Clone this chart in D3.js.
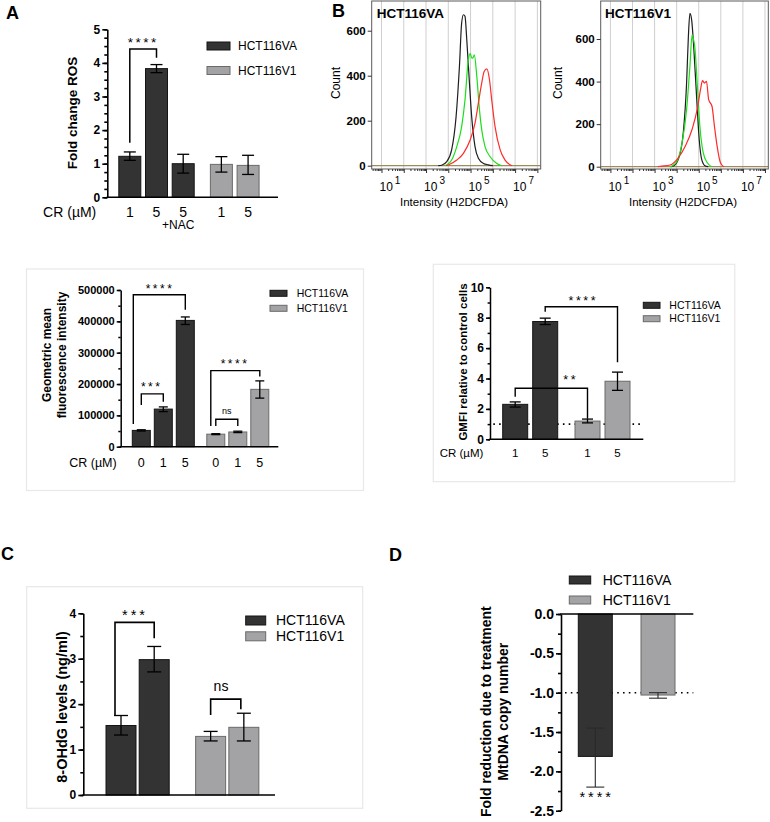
<!DOCTYPE html>
<html><head><meta charset="utf-8">
<script src="https://cdn.jsdelivr.net/npm/d3@7"></script>
<style>body{margin:0;background:#fff}svg{display:block}</style>
</head><body>
<svg id="c" width="770" height="822"></svg>
<script>
// ================= DATA =================
const seriesNames = ["HCT116VA", "HCT116V1"];

// Panel A: Fold change ROS
const aCats   = ["1", "5", "5", "1", "5"];
const aSeries = [0, 0, 0, 1, 1];
const aVals   = [1.22, 3.83, 1.00, 0.98, 0.95];
const aErrLo  = [1.10, 3.71, 0.72, 0.75, 0.68];
const aErrHi  = [1.35, 3.95, 1.28, 1.21, 1.25];
const aTicks  = [0, 1, 2, 3, 4, 5];
const aMinor  = d3.range(0, 5.01, 0.25);

// Panel B: flow histograms (log10 intensity, count)
const histYTicks = [0, 200, 400, 600];
const histXLabelExp = [1, 3, 5, 7];
const histGridExp = [1, 2, 3, 4, 5, 6, 7, 8];
const vaBlack = [[3.55,0],[3.70,2],[3.93,18],[4.15,70],[4.35,218],[4.50,441],[4.60,634],[4.68,671],[4.75,664],[4.83,560],[4.95,367],[5.05,218],[5.20,85],[5.35,33],[5.58,10],[5.80,4],[6.00,0]];
const vaGreen = [[3.85,0],[3.93,3],[4.15,25],[4.38,85],[4.60,174],[4.75,292],[4.90,470],[4.98,498],[5.05,480],[5.10,478],[5.17,493],[5.28,397],[5.40,248],[5.50,160],[5.65,85],[5.88,40],[6.18,10],[6.40,0]];
const vaRed   = [[3.90,0],[4.00,3],[4.38,25],[4.68,55],[4.98,114],[5.20,189],[5.35,278],[5.50,367],[5.61,419],[5.73,430],[5.85,382],[5.95,292],[6.10,174],[6.33,70],[6.55,25],[6.85,0]];
const v1Black = [[3.75,0],[3.85,3],[4.08,36],[4.30,160],[4.45,393],[4.53,611],[4.60,720],[4.68,689],[4.78,549],[4.91,315],[5.02,129],[5.13,36],[5.28,5],[5.43,0]];
const v1Green = [[3.70,0],[3.80,3],[4.03,28],[4.25,114],[4.45,269],[4.60,471],[4.70,620],[4.78,590],[4.82,565],[4.93,393],[5.05,191],[5.20,67],[5.38,20],[5.60,0]];
const v1Red   = [[3.15,0],[3.25,2],[3.70,8],[4.03,36],[4.40,98],[4.70,176],[4.93,269],[5.08,362],[5.17,404],[5.26,393],[5.35,401],[5.45,315],[5.60,284],[5.71,191],[5.83,98],[5.98,20],[6.13,0]];

// Panel B lower-left: Geometric mean fluorescence intensity
const gmCats   = ["0", "1", "5", "0", "1", "5"];
const gmSeries = [0, 0, 0, 1, 1, 1];
const gmVals   = [52000, 120000, 403000, 40000, 47000, 183000];
const gmErrLo  = [50000, 112000, 390000, 38500, 45000, 155000];
const gmErrHi  = [54000, 127000, 414000, 41500, 49500, 210000];
const gmTicks  = [0, 100000, 200000, 300000, 400000, 500000];
const gmMinor  = d3.range(0, 500001, 50000);

// Panel B lower-right: GMFI relative to control cells
const relCats   = ["1", "5", "1", "5"];
const relSeries = [0, 0, 1, 1];
const relVals   = [2.30, 7.75, 1.20, 3.82];
const relErrLo  = [2.12, 7.55, 1.08, 3.22];
const relErrHi  = [2.46, 7.97, 1.33, 4.42];
const relTicks  = [0, 2, 4, 6, 8, 10];
const relMinor  = d3.range(0, 10.01, 1);
const relRef    = 1;

// Panel C: 8-OHdG levels
const ohSeries = [0, 0, 1, 1];
const ohVals   = [1.53, 2.98, 1.29, 1.49];
const ohErrLo  = [1.32, 2.71, 1.19, 1.19];
const ohErrHi  = [1.75, 3.27, 1.40, 1.80];
const ohTicks  = [0, 1, 2, 3, 4];
const ohMinor  = d3.range(0, 4.01, 0.5);

// Panel D: MtDNA copy number
const mtSeries = [0, 1];
const mtVals   = [-1.81, -1.03];
const mtErrLo  = [-2.20, -1.07];
const mtErrHi  = [-1.45, -1.00];
const mtTicks  = [0, -0.5, -1.0, -1.5, -2.0, -2.5];
const mtMinor  = d3.range(0, -2.51, -0.25);
const mtRef    = -1;

// ================= DRAWING =================
const FONT = '"Liberation Sans", Arial, Helvetica, sans-serif';
const FILL = ["#333333", "#a3a3a6"];
const EDGE = ["#151515", "#6a6a6a"];
const svg = d3.select("#c");

function txt(g, x, y, s, size, o = {}) {
  const t = g.append("text").attr("x", x).attr("y", y).text(s)
    .attr("font-size", size).attr("font-family", FONT).attr("fill", "#000")
    .attr("text-anchor", o.anchor || "start");
  if (o.bold) t.attr("font-weight", "bold");
  if (o.mid) t.attr("dy", "0.35em");
  if (o.rot) t.attr("transform", `rotate(-90,${x},${y})`);
  if (o.ls) t.attr("letter-spacing", o.ls);
  return t;
}

function barPanel(p) {
  const g = svg.append("g");
  const y = d3.scaleLinear().domain(p.yDomain).range(p.yRange);
  const xs = d3.scaleLinear().domain([0, 1]).range([p.c0, p.c0 + p.step]);
  const cx = i => xs(i + p.series[i] * p.gap);

  if (p.ref !== undefined) {
    g.append("line").attr("x1", p.refX0).attr("x2", p.axisEnd)
      .attr("y1", y(p.ref)).attr("y2", y(p.ref))
      .attr("stroke", "#000").attr("stroke-width", 1.6).attr("stroke-dasharray", "1.6,4.2");
  }
  g.selectAll(null).data(p.values).join("rect")
    .attr("x", (d, i) => cx(i) - p.barW / 2).attr("width", p.barW)
    .attr("y", d => Math.min(y(d), y(0))).attr("height", d => Math.abs(y(d) - y(0)))
    .attr("fill", (d, i) => FILL[p.series[i]]).attr("stroke", (d, i) => EDGE[p.series[i]])
    .attr("stroke-width", 1);
  // error bars
  const eb = g.selectAll(null).data(p.values).join("g");
  eb.append("line").attr("x1", (d, i) => cx(i)).attr("x2", (d, i) => cx(i))
    .attr("y1", (d, i) => y(p.lo[i])).attr("y2", (d, i) => y(p.hi[i]));
  eb.append("line").attr("x1", (d, i) => cx(i) - p.capW / 2).attr("x2", (d, i) => cx(i) + p.capW / 2)
    .attr("y1", (d, i) => y(p.lo[i])).attr("y2", (d, i) => y(p.lo[i]));
  eb.append("line").attr("x1", (d, i) => cx(i) - p.capW / 2).attr("x2", (d, i) => cx(i) + p.capW / 2)
    .attr("y1", (d, i) => y(p.hi[i])).attr("y2", (d, i) => y(p.hi[i]));
  eb.selectAll("line").attr("stroke", p.errColor || "#000").attr("stroke-width", p.errW || 1.3);

  // y axis
  const ax = d3.axisLeft(y).tickValues(p.ticks).tickFormat(p.fmt).tickSize(p.tickLen).tickSizeOuter(0).tickPadding(2);
  const ga = g.append("g").attr("transform", `translate(${p.axisX},0)`).call(ax);
  ga.attr("font-family", FONT).attr("font-size", p.tickFont).attr("font-weight", "bold");
  ga.selectAll("path,line").attr("stroke", "#000").attr("stroke-width", p.axisW);
  ga.selectAll("text").attr("fill", "#000");
  const am = d3.axisLeft(y).tickValues(p.minor).tickFormat("").tickSize(p.tickLen * 0.6).tickSizeOuter(0);
  const gm = g.append("g").attr("transform", `translate(${p.axisX},0)`).call(am);
  gm.select(".domain").remove();
  gm.selectAll("line").attr("stroke", "#000").attr("stroke-width", p.axisW);
  // x axis line
  g.append("line").attr("x1", p.axisX - p.axisW / 2).attr("x2", p.axisEnd)
    .attr("y1", y(0)).attr("y2", y(0)).attr("stroke", "#000").attr("stroke-width", p.axisW);
  return { g, y, cx };
}

function bracket(g, y, x1, x2, top, yl, yr, w) {
  g.append("path")
    .attr("d", `M${x1},${y(yl)}V${y(top)}H${x2}V${y(yr)}`)
    .attr("fill", "none").attr("stroke", "#000").attr("stroke-width", w || 1.5);
}

function legend(g, x, ys, w, h, tx, size) {
  seriesNames.forEach((n, i) => {
    g.append("rect").attr("x", x).attr("y", ys[i] - h / 2).attr("width", w).attr("height", h)
      .attr("fill", FILL[i]).attr("stroke", EDGE[i]).attr("stroke-width", 1);
    txt(g, tx, ys[i], n, size, { mid: true });
  });
}

// ---------- Panel A ----------
{
  const P = barPanel({
    yDomain: [0, 5], yRange: [197.3, 29.3], c0: 129.8, step: 26.7, gap: 0.43,
    series: aSeries, values: aVals, lo: aErrLo, hi: aErrHi, barW: 22, capW: 12,
    ticks: aTicks, minor: aMinor, fmt: d3.format("d"), tickLen: 5, tickFont: 12, axisW: 1.6,
    axisX: 107.3, axisEnd: 278
  });
  const g = P.g, y = P.y;
  txt(g, 6, 19, "A", 18, { bold: true });
  txt(g, 72.7, 113, "Fold change ROS", 13.5, { bold: true, anchor: "middle", rot: true, mid: true });
  bracket(g, y, P.cx(0), P.cx(1), 4.41, 1.62, 4.15);
  txt(g, (P.cx(0) + P.cx(1)) / 2, 47, "****", 13.5, { anchor: "middle", ls: 2.5 });
  legend(g, 207, [46, 70.5], 23, 8, 238, 12);
  txt(g, 69.7, 211.7, "CR (µM)", 14, { anchor: "middle", mid: true });
  aCats.forEach((c, i) => txt(g, P.cx(i), 211.7, c, 14, { anchor: "middle", mid: true }));
  txt(g, P.cx(2) - 5, 225, "+NAC", 12, { anchor: "middle", mid: true });
}

// ---------- Panel B histograms ----------
const histExpMin = 0.56, histExpMax = 8.15;
function histPanel(p) {
  const g = svg.append("g");
  const x = d3.scaleLog().domain([10 ** histExpMin, 10 ** histExpMax]).range([p.left, p.right]);
  const y = d3.scaleLinear().domain([0, 600]).range([p.y0, p.y600]);
  g.selectAll(null).data(histGridExp).join("line")
    .attr("x1", d => x(10 ** d)).attr("x2", d => x(10 ** d))
    .attr("y1", p.top).attr("y2", p.bottom).attr("stroke", "#cfcfcf").attr("stroke-width", 1);
  g.append("line").attr("x1", p.left).attr("x2", p.right).attr("y1", y(0)).attr("y2", y(0))
    .attr("stroke", "#9e8a5c").attr("stroke-width", 1.3);
  const line = d3.line().x(d => x(10 ** d[0])).y(d => y(d[1])).curve(d3.curveMonotoneX);
  [[p.black, "#1e1e1e"], [p.green, "#19e019"], [p.red, "#ff2a2a"]].forEach(([data, col]) => {
    g.append("path").attr("d", line(data)).attr("fill", "none").attr("stroke", col).attr("stroke-width", 1.2);
  });
  g.append("rect").attr("x", p.left).attr("y", p.top).attr("width", p.right - p.left)
    .attr("height", p.bottom - p.top).attr("fill", "none").attr("stroke", "#5a5a5a").attr("stroke-width", 1);
  // y ticks
  const ay = d3.axisLeft(y).tickValues(histYTicks).tickSize(4).tickSizeOuter(0).tickPadding(2);
  const gy = g.append("g").attr("transform", `translate(${p.left},0)`).call(ay);
  gy.select(".domain").remove();
  gy.attr("font-family", FONT).attr("font-size", 11.5).attr("font-weight", "bold");
  gy.selectAll("line").attr("stroke", "#333");
  gy.selectAll("text").attr("fill", "#000");
  // x ticks
  const majors = d3.range(1, 9).map(k => 10 ** k);
  const minors = [];
  d3.range(0, 9).forEach(k => d3.range(2, 10).forEach(m => {
    const v = m * 10 ** k; if (v > 10 ** histExpMin && v < 10 ** histExpMax) minors.push(v);
  }));
  const gx = g.append("g").attr("transform", `translate(0,${p.bottom})`)
    .call(d3.axisBottom(x).tickValues(majors).tickFormat("").tickSize(4).tickSizeOuter(0));
  gx.select(".domain").remove();
  gx.selectAll("line").attr("stroke", "#333");
  const gx2 = g.append("g").attr("transform", `translate(0,${p.bottom})`)
    .call(d3.axisBottom(x).tickValues(minors).tickFormat("").tickSize(2).tickSizeOuter(0));
  gx2.select(".domain").remove();
  gx2.selectAll("line").attr("stroke", "#333");
  histXLabelExp.forEach(k => {
    const t = g.append("text").attr("x", x(10 ** k) - 2).attr("y", 191)
      .attr("font-family", FONT).attr("font-size", 12).attr("fill", "#000");
    t.append("tspan").text("10");
    t.append("tspan").attr("dx", 2).attr("dy", -7).attr("font-size", 10).text(String(k));
  });
  txt(g, p.title[1], 18, p.title[0], 13.5, { bold: true });
  txt(g, p.countX, 83, "Count", 12, { anchor: "middle", rot: true, mid: true });
  txt(g, p.xlabX, 201.7, "Intensity (H2DCFDA)", 11.5, { anchor: "middle", mid: true });
}
histPanel({ left: 371.7, right: 540.7, top: 1, bottom: 169, y0: 165.7, y600: 30.7,
  black: vaBlack, green: vaGreen, red: vaRed, title: ["HCT116VA", 376.7], countX: 336, xlabX: 454 });
histPanel({ left: 600.7, right: 768.3, top: 1, bottom: 169, y0: 166.7, y600: 39,
  black: v1Black, green: v1Green, red: v1Red, title: ["HCT116V1", 605], countX: 558.3, xlabX: 683 });
txt(svg, 332, 17, "B", 18, { bold: true });

// ---------- Panel B lower-left (GMFI) ----------
{
  svg.append("rect").attr("x", 26.5).attr("y", 269).attr("width", 337).attr("height", 221.5)
    .attr("fill", "none").attr("stroke", "#e8e8e8").attr("stroke-width", 1.2);
  const P = barPanel({
    yDomain: [0, 500000], yRange: [446.7, 290], c0: 141.3, step: 22, gap: 0.386,
    series: gmSeries, values: gmVals, lo: gmErrLo, hi: gmErrHi, barW: 18, capW: 9,
    ticks: gmTicks, minor: gmMinor, fmt: d3.format("d"), tickLen: 4, tickFont: 11, axisW: 1.5,
    axisX: 120.7, axisEnd: 278.3
  });
  const g = P.g, y = P.y;
  txt(g, 46.7, 355, "Geometric mean", 12, { bold: true, anchor: "middle", rot: true, mid: true });
  txt(g, 61.7, 355, "fluorescence intensity", 12, { bold: true, anchor: "middle", rot: true, mid: true });
  bracket(g, y, P.cx(0) - 8, P.cx(2), 485000, 72500, 436700, 1.4);
  txt(g, 160, 292.5, "****", 12, { anchor: "middle", ls: 2.5 });
  bracket(g, y, P.cx(0), P.cx(1), 168400, 133200, 143800, 1.4);
  txt(g, 151.7, 390.5, "***", 12, { anchor: "middle", ls: 2.5 });
  bracket(g, y, P.cx(3) - 5, P.cx(5), 242800, 66100, 223600, 1.4);
  txt(g, 235, 368, "****", 12, { anchor: "middle", ls: 2.5 });
  bracket(g, y, P.cx(3), P.cx(4), 87500, 66000, 66000, 1.4);
  txt(g, (P.cx(3) + P.cx(4)) / 2, 410.7, "ns", 9, { anchor: "middle", mid: true });
  legend(g, 270, [293.3, 308.3], 17, 6, 296.7, 10.5);
  txt(g, 116.7, 463, "CR (µM)", 12.5, { anchor: "end", mid: true });
  gmCats.forEach((c, i) => txt(g, P.cx(i), 463, c, 12.5, { anchor: "middle", mid: true }));
}

// ---------- Panel B lower-right (relative GMFI) ----------
{
  svg.append("rect").attr("x", 433.3).attr("y", 264.3).attr("width", 301.5).attr("height", 217.4)
    .attr("fill", "none").attr("stroke", "#e8e8e8").attr("stroke-width", 1.2);
  const P = barPanel({
    yDomain: [0, 10], yRange: [439.3, 287.3], c0: 515.2, step: 30, gap: 0.41,
    series: relSeries, values: relVals, lo: relErrLo, hi: relErrHi, barW: 25, capW: 11,
    ticks: relTicks, minor: relMinor, fmt: d3.format("d"), tickLen: 4, tickFont: 12, axisW: 1.5,
    axisX: 490, axisEnd: 643.3, ref: relRef, refX0: 493.3
  });
  const g = P.g, y = P.y;
  txt(g, 463.3, 362, "GMFI relative to control cells", 11.5, { bold: true, anchor: "middle", rot: true, mid: true });
  bracket(g, y, P.cx(1), P.cx(3), 8.72, 8.39, 5.07, 1.4);
  txt(g, 583.3, 304.5, "****", 12.5, { anchor: "middle", ls: 2.5 });
  bracket(g, y, P.cx(0), P.cx(2), 3.36, 2.80, 1.36, 1.4);
  txt(g, 570.7, 384, "**", 12.5, { anchor: "middle", ls: 2.5 });
  legend(g, 643.3, [305.3, 318.7], 16.7, 6, 669.3, 10.5);
  txt(g, 483.3, 452.7, "CR (µM)", 11.5, { anchor: "end", mid: true });
  relCats.forEach((c, i) => txt(g, P.cx(i), 452.7, c, 11.5, { anchor: "middle", mid: true }));
}

// ---------- Panel C ----------
{
  svg.append("rect").attr("x", 26.7).attr("y", 586.7).attr("width", 336).attr("height", 221.6)
    .attr("fill", "none").attr("stroke", "#e8e8e8").attr("stroke-width", 1.2);
  txt(svg, 1, 559.5, "C", 18, { bold: true });
  const P = barPanel({
    yDomain: [0, 4], yRange: [795, 613.3], c0: 121, step: 33.2, gap: 0.7,
    series: ohSeries, values: ohVals, lo: ohErrLo, hi: ohErrHi, barW: 30, capW: 14,
    ticks: ohTicks, minor: ohMinor, fmt: d3.format("d"), tickLen: 5, tickFont: 12, axisW: 1.6,
    axisX: 83.3, axisEnd: 275
  });
  const g = P.g, y = P.y;
  txt(g, 61.7, 707, "8-OHdG levels (ng/ml)", 14.5, { bold: true, anchor: "middle", rot: true, mid: true });
  bracket(g, y, P.cx(0) - 6, P.cx(1), 3.80, 1.76, 3.45, 1.6);
  txt(g, 135, 619.5, "***", 14.5, { anchor: "middle", ls: 3 });
  bracket(g, y, P.cx(2), P.cx(3) - 3, 2.11, 1.76, 1.89, 1.6);
  txt(g, 221, 686, "ns", 14, { anchor: "middle", mid: true });
  legend(g, 245.7, [620.5, 636.3], 20, 9, 276, 14);
}

// ---------- Panel D ----------
{
  txt(svg, 389, 560.5, "D", 18, { bold: true });
  const P = barPanel({
    yDomain: [0, -2.5], yRange: [614, 810.7], c0: 595.3, step: 62.7, gap: 0,
    series: mtSeries, values: mtVals, lo: mtErrLo, hi: mtErrHi, barW: 34, capW: 18,
    ticks: mtTicks, minor: mtMinor, fmt: d => d.toFixed(1), tickLen: 5, tickFont: 14, axisW: 1.6,
    axisX: 561, axisEnd: 693.3, ref: mtRef, refX0: 565, errColor: "#2a2a2a", errW: 1.1
  });
  const g = P.g, y = P.y;
  txt(g, 486, 711.7, "Fold reduction due to treatment", 14, { bold: true, anchor: "middle", rot: true, mid: true });
  txt(g, 503.3, 711.7, "MtDNA copy number", 14, { bold: true, anchor: "middle", rot: true, mid: true });
  txt(g, 596.7, 802, "****", 14.5, { anchor: "middle", ls: 3 });
  legend(g, 569.3, [580, 600], 21.4, 8, 602.7, 14);
}
</script>
</body></html>
